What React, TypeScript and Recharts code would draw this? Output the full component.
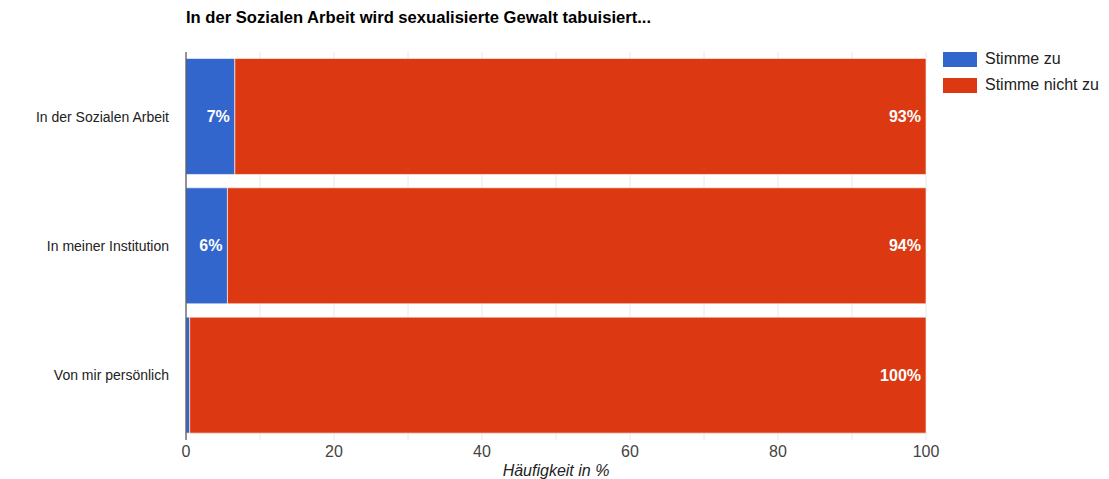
import { Bar, BarChart, CartesianGrid, LabelList, XAxis, YAxis } from "recharts"

const categories = ["In der Sozialen Arbeit", "In meiner Institution", "Von mir persönlich"]
const agree = [6.6, 5.6, 0.5]
const disagree = [93.4, 94.4, 99.5]
const xTicks = [0, 10, 20, 30, 40, 50, 60, 70, 80, 90, 100]

const data = categories.map((name, i) => ({ name, agree: agree[i], disagree: disagree[i] }))

const FONT = "Arial, 'Liberation Sans', sans-serif"

const series = [
  { key: "agree", name: "Stimme zu", color: "#3366cc" },
  { key: "disagree", name: "Stimme nicht zu", color: "#dc3912" },
]

const pct = (v: any) => (Number(v) >= 3 ? `${Math.round(Number(v))}%` : "")

function LegendBox() {
  return (
    <div style={{ position: "absolute", left: 943, top: 46, fontFamily: FONT, fontSize: 16, color: "#222" }}>
      {series.map((s) => (
        <div key={s.key} style={{ display: "flex", alignItems: "center", height: 26 }}>
          <span style={{ width: 34, height: 15, background: s.color, marginRight: 8 }} />
          <span>{s.name}</span>
        </div>
      ))}
    </div>
  )
}

export default function App() {
  return (
    <div style={{ position: "absolute", left: 0, top: 0, width: 1109, height: 479, background: "#fff" }}>
      <div
        style={{
          position: "absolute",
          left: 186,
          top: 8,
          fontFamily: FONT,
          fontSize: 16.6,
          fontWeight: "bold",
          color: "#000",
          whiteSpace: "nowrap",
        }}
      >
        In der Sozialen Arbeit wird sexualisierte Gewalt tabuisiert...
      </div>
      <BarChart
        width={1109}
        height={479}
        data={data}
        layout="vertical"
        barCategoryGap="5%"
        margin={{ top: 52, right: 183, bottom: 0, left: 0 }}
        style={{ fontFamily: FONT, position: "absolute", left: 0, top: 0 }}
      >
        <CartesianGrid horizontal={false} stroke="#e8e8e8" />
        <XAxis
          type="number"
          domain={[0, 100]}
          ticks={xTicks}
          interval={0}
          tickFormatter={(v) => (v % 20 === 0 ? String(v) : "")}
          axisLine={false}
          tickLine={false}
          tickMargin={0}
          height={39}
          tick={{ fill: "#444", fontSize: 16 }}
          label={{
            value: "Häufigkeit in %",
            position: "insideBottom",
            offset: 3,
            fill: "#222",
            fontSize: 16,
            fontStyle: "italic",
          }}
        />
        <YAxis
          type="category"
          dataKey="name"
          width={186}
          axisLine={{ stroke: "#333" }}
          tickLine={false}
          tickMargin={11}
          tick={{ fill: "#222", fontSize: 14 }}
        />
        {series.map((s) => (
          <Bar
            key={s.key}
            dataKey={s.key}
            name={s.name}
            stackId="a"
            fill={s.color}
            stroke="#fff"
            strokeWidth={0.6}
            isAnimationActive={false}
          >
            <LabelList
              dataKey={s.key}
              position="insideRight"
              offset={5}
              formatter={pct}
              fill="#fff"
              fontSize={16}
              fontWeight="bold"
            />
          </Bar>
        ))}
      </BarChart>
      <LegendBox />
    </div>
  )
}
